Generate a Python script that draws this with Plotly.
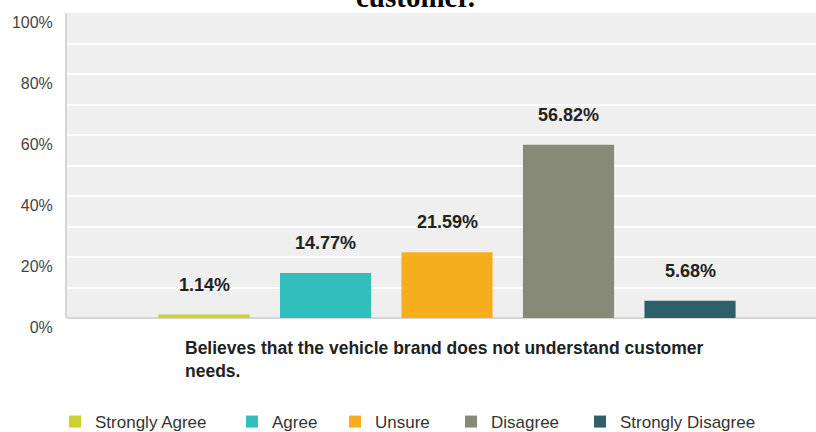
import plotly.graph_objects as go

categories = ["Strongly Agree", "Agree", "Unsure", "Disagree", "Strongly Disagree"]
values = [1.14, 14.77, 21.59, 56.82, 5.68]
colors = ["#cbd12d", "#33bebe", "#f6ae1e", "#878a77", "#2e5f6b"]

tick_vals = [0, 10, 20, 30, 40, 50, 60, 70, 80, 90, 100]
tick_text = ["0%", "", "20%", "", "40%", "", "60%", "", "80%", "", "100%"]

title_text = "customer."
axis_label = "Believes that the vehicle brand does not understand customer<br>needs."

SANS = "Arial, Liberation Sans, sans-serif"

# left edge of each legend entry, as a fraction of the plot width
legend_x = [-0.016, 0.2203, 0.3578, 0.5127, 0.6849]

fig = go.Figure()
for i, (cat, val, col) in enumerate(zip(categories, values, colors)):
    legend_id = "legend" if i == 0 else f"legend{i + 1}"
    fig.add_trace(
        go.Bar(
            x=[cat],
            y=[val],
            name=cat,
            width=0.75,
            marker={"color": col, "line": {"width": 0}},
            hoverinfo="skip",
            legend=legend_id,
        )
    )
    fig.update_layout(
        {
            legend_id: {
                "orientation": "h",
                "x": legend_x[i],
                "xanchor": "left",
                "y": -0.282,
                "yanchor": "top",
                "font": {"family": SANS, "size": 17, "color": "#333333"},
                "bgcolor": "rgba(0,0,0,0)",
            }
        }
    )
    # value label floating above each bar
    fig.add_annotation(
        x=cat,
        y=val,
        text=f"<b>{val:.2f}%</b>",
        showarrow=False,
        yanchor="middle",
        yshift=30,
        font={"family": SANS, "size": 18, "color": "#222222"},
    )

# title, only its last line shows at the top edge
fig.add_annotation(
    xref="paper",
    yref="paper",
    x=0.465,
    y=1,
    xanchor="center",
    yanchor="bottom",
    yshift=-2,
    text=f"<b>{title_text}</b>",
    showarrow=False,
    font={"family": "Liberation Serif, Times New Roman, serif", "size": 29, "color": "#000000"},
)

# category axis caption
fig.add_annotation(
    xref="paper",
    yref="paper",
    x=0.1549,
    y=0,
    xanchor="left",
    yanchor="top",
    yshift=-18,
    align="left",
    text=f"<b>{axis_label}</b>",
    showarrow=False,
    font={"family": SANS, "size": 17.5, "color": "#222222"},
)

fig.update_layout(
    width=816,
    height=432,
    margin={"l": 67, "r": 0, "t": 13, "b": 114, "autoexpand": False},
    paper_bgcolor="#ffffff",
    plot_bgcolor="#efefef",
    barmode="overlay",
    showlegend=True,
    font={"family": SANS},
)

fig.update_xaxes(
    type="category",
    categoryorder="array",
    categoryarray=categories,
    range=[-1.128, 5.037],
    showticklabels=False,
    ticks="",
    showgrid=False,
    showline=False,
    zeroline=False,
)
fig.update_yaxes(
    range=[0, 100.01],
    tickvals=tick_vals,
    ticktext=tick_text,
    ticklabelshift=9,
    ticklabelstandoff=9,
    ticks="",
    showgrid=True,
    gridcolor="#ffffff",
    gridwidth=2,
    showline=True,
    linecolor="#d6d6d6",
    linewidth=2,
    zeroline=True,
    zerolinecolor="#d6d6d6",
    zerolinewidth=2,
    tickfont={"family": SANS, "size": 16, "color": "#444444"},
)

# the page's default body margin would push the figure 8px down/right
fig.write_html(
    "out.html",
    config={"displayModeBar": False},
    post_script="document.body.style.margin = '0';",
)
